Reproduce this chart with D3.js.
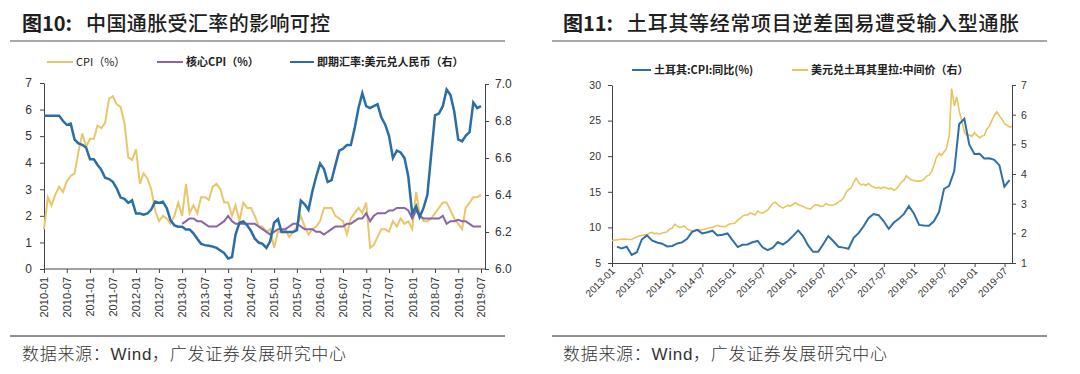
<!DOCTYPE html>
<html>
<head>
<meta charset="utf-8">
<script src="https://cdn.jsdelivr.net/npm/d3@7"></script>
<style>
  body { margin: 0; background: #fff; }
  text { font-family: "Liberation Sans", Arial, "Noto Sans CJK SC", sans-serif; }
  .cjk { font-family: "Noto Sans CJK SC", sans-serif; }
  .axis path, .axis line { stroke: #444; }
  .axis text { fill: #333; }
</style>
</head>
<body>
<svg id="chart" width="1080" height="374"></svg>
<script>
// ---- Figure 10: China CPI vs USD/CNY (monthly, 2010-01 .. 2019-07)
const cpi = [
  1.5, 2.7, 2.4, 2.8, 3.1, 2.9, 3.3, 3.5, 3.6, 4.4, 5.1, 4.6,
  4.9, 4.9, 5.4, 5.3, 5.5, 6.4, 6.5, 6.2, 6.1, 5.5, 4.2, 4.1,
  4.5, 3.2, 3.6, 3.4, 3.0, 2.2, 1.8, 2.0, 1.9, 1.7, 2.0, 2.5,
  2.0, 3.2, 2.1, 2.4, 2.1, 2.7, 2.7, 2.6, 3.1, 3.2, 3.0, 2.5,
  2.5, 2.0, 2.4, 1.8, 2.5, 2.3, 2.3, 2.0, 1.6, 1.6, 1.4, 1.5,
  0.8, 1.4, 1.4, 1.5, 1.2, 1.4, 1.6, 2.0, 1.6, 1.3, 1.5, 1.6,
  1.8, 2.3, 2.3, 2.3, 2.0, 1.9, 1.8, 1.3, 1.9, 2.1, 2.3, 2.1,
  2.5, 0.8, 0.9, 1.2, 1.5, 1.5, 1.4, 1.8, 1.6, 1.9, 1.7, 1.8,
  1.5, 2.9, 2.1, 1.8, 1.8, 1.9, 2.1, 2.3, 2.5, 2.5, 2.2, 1.9,
  1.7, 1.5, 2.3, 2.5, 2.7, 2.7, 2.8
]
// core CPI starts 2013-01
const coreCpi = [
  1.7, 1.8, 1.9, 1.9, 1.8, 1.8, 1.7, 1.6, 1.6, 1.6, 1.7, 1.8,
  2.0, 1.8, 1.7, 1.7, 1.7, 1.7, 1.7, 1.7, 1.6, 1.5, 1.4, 1.3,
  1.4, 1.5, 1.5, 1.5, 1.6, 1.7, 1.7, 1.6, 1.5, 1.5, 1.5, 1.4,
  1.4, 1.3, 1.4, 1.5, 1.6, 1.6, 1.6, 1.7, 1.7, 1.8, 1.9, 1.9,
  2.1, 1.8, 2.0, 2.1, 2.1, 2.1, 2.2, 2.2, 2.3, 2.3, 2.3, 2.2,
  1.9, 2.2, 2.0, 1.9, 1.9, 1.9, 1.9, 1.9, 2.0, 1.7, 1.8, 1.8,
  1.85, 1.8, 1.8, 1.7, 1.6, 1.6, 1.6
]
const usdCny = [
  6.829, 6.829, 6.829, 6.829, 6.829, 6.80, 6.779, 6.786, 6.70, 6.679, 6.671, 6.657,
  6.593, 6.593, 6.564, 6.536, 6.493, 6.486, 6.471, 6.436, 6.386, 6.379, 6.357, 6.371,
  6.30, 6.30, 6.293, 6.30, 6.321, 6.364, 6.357, 6.364, 6.329, 6.264, 6.236, 6.229,
  6.229, 6.214, 6.214, 6.193, 6.164, 6.136, 6.129, 6.126, 6.121, 6.114, 6.10, 6.086,
  6.057, 6.064, 6.186, 6.25, 6.257, 6.236, 6.207, 6.164, 6.143, 6.136, 6.114, 6.15,
  6.25, 6.27, 6.20, 6.20, 6.20, 6.20, 6.21, 6.37, 6.35, 6.32, 6.42, 6.50,
  6.57, 6.54, 6.47, 6.48, 6.56, 6.64, 6.65, 6.67, 6.67, 6.76, 6.87, 6.95,
  6.88, 6.87, 6.88, 6.89, 6.82, 6.78, 6.72, 6.60, 6.64, 6.63, 6.60, 6.50,
  6.30, 6.34, 6.28, 6.33, 6.40, 6.62, 6.83, 6.84, 6.88, 6.97, 6.94, 6.85,
  6.70, 6.69, 6.72, 6.74, 6.90, 6.87, 6.88
]
const cnMonths = d3.timeMonth.range(new Date(2010, 0, 1), new Date(2019, 7, 1))
const cnLeftTicks = [0, 1, 2, 3, 4, 5, 6, 7]
const cnRightTicks = [6.0, 6.2, 6.4, 6.6, 6.8, 7.0]

// ---- Figure 11: Turkey CPI yoy (monthly) and USD/TRY (semi-monthly)
const trCpi = [
  7.31, 7.03, 7.29, 6.13, 6.51, 8.30, 8.88, 8.17, 7.88, 7.71, 7.32, 7.40,
  7.75, 7.89, 8.39, 9.38, 9.66, 9.16, 9.32, 9.54, 8.86, 8.96, 9.15, 8.17,
  7.24, 7.55, 7.61, 7.91, 8.09, 7.20, 6.81, 7.14, 7.95, 7.58, 8.10, 8.81,
  9.58, 8.78, 7.46, 6.57, 6.58, 7.64, 8.79, 8.05, 7.28, 7.16, 7.00, 8.53,
  9.22, 10.13, 11.29, 11.87, 11.72, 10.90, 9.79, 10.68, 11.20, 11.90, 12.98, 11.92,
  10.35, 10.26, 10.23, 10.85, 12.15, 15.39, 15.85, 17.90, 24.52, 25.24, 21.62, 20.30,
  20.35, 19.67, 19.71, 19.50, 18.71, 15.72, 16.65
]
const usdTry = [
  1.76, 1.77, 1.78, 1.79, 1.80, 1.81, 1.80, 1.79, 1.80, 1.84, 1.88, 1.92,
  1.93, 1.95, 1.94, 2.01, 2.03, 1.99, 2.00, 1.98, 2.01, 2.03, 2.05, 2.15,
  2.18, 2.30, 2.24, 2.20, 2.22, 2.25, 2.14, 2.11, 2.08, 2.10, 2.11, 2.13,
  2.12, 2.14, 2.16, 2.19, 2.20, 2.24, 2.27, 2.23, 2.24, 2.22, 2.28, 2.32,
  2.33, 2.35, 2.45, 2.50, 2.58, 2.62, 2.62, 2.68, 2.66, 2.62, 2.75, 2.70,
  2.68, 2.73, 2.80, 2.90, 3.02, 3.05, 2.96, 2.90, 2.85, 2.90, 2.94, 2.92,
  2.98, 3.03, 2.96, 2.94, 2.90, 2.86, 2.84, 2.82, 2.92, 2.96, 2.95, 2.90,
  2.92, 3.00, 2.96, 2.94, 2.96, 2.99, 3.06, 3.10, 3.20, 3.38, 3.48, 3.52,
  3.72, 3.86, 3.70, 3.63, 3.66, 3.62, 3.68, 3.60, 3.56, 3.53, 3.55, 3.51,
  3.56, 3.53, 3.50, 3.52, 3.45, 3.50, 3.60, 3.72, 3.80, 3.94, 3.86, 3.80,
  3.78, 3.76, 3.76, 3.78, 3.82, 3.92, 3.96, 4.06, 4.30, 4.55, 4.70, 4.62,
  4.75, 4.86, 5.30, 6.88, 6.30, 6.60, 6.10, 5.80, 5.40, 5.30, 5.32, 5.27,
  5.40, 5.30, 5.22, 5.28, 5.30, 5.50, 5.62, 5.80, 5.98, 6.10, 5.95, 5.85,
  5.70, 5.65, 5.58, 5.60
]
const trCpiDates = d3.timeMonth.range(new Date(2013, 1, 1), new Date(2019, 8, 1)).map(d => d3.timeDay.offset(d, -1))
const usdTryDates = d3.timeMonth.range(new Date(2013, 0, 1), new Date(2019, 8, 1))
  .flatMap(d => [d, new Date(d.getFullYear(), d.getMonth(), 15)])
const trLeftTicks = [5, 10, 15, 20, 25, 30]
const trRightTicks = [1, 2, 3, 4, 5, 6, 7]

const svg = d3.select('#chart')

// ---------- frame: titles, rules, sources
function frame(x0, x1, titleX, num, title, titleLen) {
  const t = svg.append('text')
    .attr('class', 'cjk')
    .attr('x', titleX)
    .attr('y', 31)
    .attr('font-size', 20)
    .attr('fill', '#1e1e1e')
  t.append('tspan').attr('font-weight', 700).text('图' + num + ':')
  t.append('tspan').attr('dx', 14).attr('font-weight', 500)
    .attr('textLength', titleLen).attr('lengthAdjust', 'spacing').text(title)

  svg.append('line')
    .attr('x1', x0).attr('x2', x1).attr('y1', 41).attr('y2', 41)
    .attr('stroke', '#8a8a8a').attr('stroke-width', 1.5)
  svg.append('line')
    .attr('x1', x0).attr('x2', x1).attr('y1', 336).attr('y2', 336)
    .attr('stroke', '#222').attr('stroke-width', 1)
  const src = svg.append('text')
    .attr('class', 'cjk')
    .attr('x', titleX)
    .attr('y', 360)
    .attr('font-size', 17)
    .attr('font-weight', 300)
    .attr('letter-spacing', 0.7)
    .attr('fill', '#333')
  src.append('tspan').text('数据来源：')
  src.append('tspan').attr('font-family', '"Liberation Sans", Arial').attr('font-weight', 400).text('Wind')
  src.append('tspan').text('，广发证券发展研究中心')
}
frame(10, 505, 22, '10', '中国通胀受汇率的影响可控', 244)
frame(552, 1047, 563, '11', '土耳其等经常项目逆差国易遭受输入型通胀', 392)

function legendItem(x, y, len, color, label, bold) {
  svg.append('line')
    .attr('x1', x).attr('x2', x + len).attr('y1', y).attr('y2', y)
    .attr('stroke', color).attr('stroke-width', 2)
  svg.append('text')
    .attr('class', 'cjk')
    .attr('x', x + len + 3)
    .attr('y', y + 4)
    .attr('font-size', 11)
    .attr('font-weight', bold ? 700 : 400)
    .attr('fill', '#222')
    .text(label)
}

// ---------- chart 10
const cpiColor = '#e8c66a'
const coreColor = '#8b64a9'
const cnyColor = '#2b6ea6'

const xL = d3.scaleTime().domain([cnMonths[0], cnMonths[cnMonths.length - 1]]).range([44, 481])
const yL = d3.scaleLinear().domain([0, 7]).range([269, 83])
const yR = d3.scaleLinear().domain([6, 7]).range([269, 84])

svg.append('g')
  .attr('class', 'axis')
  .attr('transform', 'translate(44,0)')
  .call(d3.axisLeft(yL).tickValues(cnLeftTicks).tickFormat(d3.format('d')).tickSize(4).tickSizeOuter(0).tickPadding(8))
  .call(g => g.selectAll('text').attr('font-size', 12))

svg.append('g')
  .attr('class', 'axis')
  .attr('transform', 'translate(485,0)')
  .call(d3.axisRight(yR).tickValues(cnRightTicks).tickFormat(d3.format('.1f')).tickSize(4).tickSizeOuter(0).tickPadding(6))
  .call(g => g.selectAll('text').attr('font-size', 12))

const xAxisL = svg.append('g')
  .attr('class', 'axis')
  .attr('transform', 'translate(0,269)')
  .call(d3.axisBottom(xL).ticks(d3.timeMonth.every(6)).tickFormat(d3.timeFormat('%Y-%m')).tickSize(4).tickSizeOuter(0))
xAxisL.select('.domain').remove()
xAxisL.append('line').attr('x1', 44).attr('x2', 485).attr('stroke', '#444')
xAxisL.selectAll('text')
  .attr('font-size', 11)
  .attr('text-anchor', 'end')
  .attr('transform', 'rotate(-90)')
  .attr('x', -8)
  .attr('y', 0)
  .attr('dy', '0.35em')

const lineL = d3.line().x(d => xL(d[0])).y(d => yL(d[1]))
const lineR = d3.line().x(d => xL(d[0])).y(d => yR(d[1]))

svg.append('path')
  .datum(cnMonths.map((d, i) => [d, cpi[i]]))
  .attr('d', lineL).attr('fill', 'none').attr('stroke', cpiColor).attr('stroke-width', 2)
svg.append('path')
  .datum(coreCpi.map((v, i) => [cnMonths[36 + i], v]))
  .attr('d', lineL).attr('fill', 'none').attr('stroke', coreColor).attr('stroke-width', 2)
svg.append('path')
  .datum(cnMonths.map((d, i) => [d, usdCny[i]]))
  .attr('d', lineR).attr('fill', 'none').attr('stroke', cnyColor).attr('stroke-width', 2.5)

legendItem(47, 62, 26, cpiColor, 'CPI（%）', false)
legendItem(157, 62, 26, coreColor, '核心CPI（%）', true)
legendItem(290, 62, 24, cnyColor, '即期汇率:美元兑人民币（右）', true)

// ---------- chart 11
const trBlue = '#2f6fa8'
const trGold = '#e6c55f'

const xT = d3.scaleTime().domain([new Date(2013, 0, 1), new Date(2019, 7, 15)]).range([612, 1012])
const yT = d3.scaleLinear().domain([5, 30]).range([263, 85])
const yT2 = d3.scaleLinear().domain([1, 7]).range([263, 85])

svg.append('g')
  .attr('class', 'axis')
  .attr('transform', 'translate(612,0)')
  .call(d3.axisLeft(yT).tickValues(trLeftTicks).tickFormat(d3.format('d')).tickSize(4).tickSizeOuter(0).tickPadding(7))
  .call(g => g.selectAll('text').attr('font-size', 10.5))

svg.append('g')
  .attr('class', 'axis')
  .attr('transform', 'translate(1012,0)')
  .call(d3.axisRight(yT2).tickValues(trRightTicks).tickFormat(d3.format('d')).tickSize(4).tickSizeOuter(0).tickPadding(5))
  .call(g => g.selectAll('text').attr('font-size', 10.5))

const xAxisT = svg.append('g')
  .attr('class', 'axis')
  .attr('transform', 'translate(0,263)')
  .call(d3.axisBottom(xT).ticks(d3.timeMonth.every(6)).tickFormat(d3.timeFormat('%Y-%m')).tickSize(4).tickSizeOuter(0))
xAxisT.selectAll('text')
  .attr('font-size', 10)
  .attr('text-anchor', 'end')
  .attr('transform', 'rotate(-45)')
  .attr('x', -4)
  .attr('y', 5)
  .attr('dy', '0.35em')

svg.append('path')
  .datum(usdTryDates.map((d, i) => [d, usdTry[i]]).filter(d => d[1] !== undefined))
  .attr('d', d3.line().x(d => xT(d[0])).y(d => yT2(d[1])))
  .attr('fill', 'none').attr('stroke', trGold).attr('stroke-width', 1.6)
svg.append('path')
  .datum(trCpiDates.map((d, i) => [d, trCpi[i]]))
  .attr('d', d3.line().x(d => xT(d[0])).y(d => yT(d[1])))
  .attr('fill', 'none').attr('stroke', trBlue).attr('stroke-width', 2)

legendItem(632, 70, 19, trBlue, '土耳其:CPI:同比(%)', true)
legendItem(792, 70, 16, trGold, '美元兑土耳其里拉:中间价（右）', true)
</script>
</body>
</html>
